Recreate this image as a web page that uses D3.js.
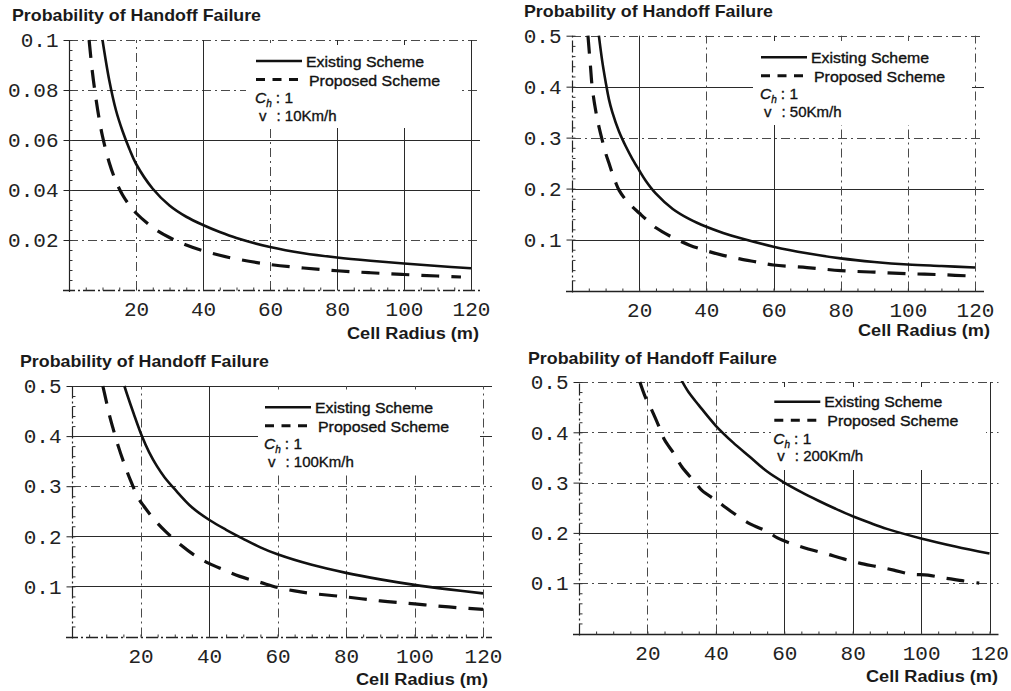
<!DOCTYPE html>
<html>
<head>
<meta charset="utf-8">
<script src="https://cdn.jsdelivr.net/npm/d3@7"></script>
<style>
  body { margin: 0; background: #fff; }
  svg { display: block; }
</style>
</head>
<body>
<svg id="chart" width="1011" height="691"></svg>
<script>
// values (cell radius in m, probability)
const xTickValues = [20, 40, 60, 80, 100, 120];
const yTicksLow = [0.02, 0.04, 0.06, 0.08, 0.1];
const yTickLabelsLow = ["0.02", "0.04", "0.06", "0.08", "0.1"];
const yTicksHigh = [0.1, 0.2, 0.3, 0.4, 0.5];
const yTickLabelsHigh = ["0.1", "0.2", "0.3", "0.4", "0.5"];
const seriesNames = ["Existing Scheme", "Proposed Scheme"];
const speeds = ["10Km/h", "50Km/h", "100Km/h", "200Km/h"];
const yTitle = "Probability of Handoff Failure";
const xTitle = "Cell Radius (m)";

const radius10Existing = [10, 12, 14, 16, 18, 20, 25, 30, 35, 40, 45, 50, 60, 70, 80, 90, 100, 110, 120];
const prob10Existing = [0.100, 0.084, 0.072, 0.0635, 0.0565, 0.0505, 0.0405, 0.0338, 0.0293, 0.0260, 0.0232, 0.0208, 0.0172, 0.0147, 0.0130, 0.0117, 0.0106, 0.0096, 0.0087];
const radius10Proposed = [6, 7, 8, 9, 10, 12, 14, 16, 18, 20, 25, 30, 35, 40, 45, 50, 60, 70, 80, 90, 100, 110, 117];
const prob10Proposed = [0.100, 0.087, 0.077, 0.0685, 0.0615, 0.051, 0.0435, 0.038, 0.034, 0.0308, 0.025, 0.021, 0.018, 0.0157, 0.0139, 0.0124, 0.0102, 0.0088, 0.0077, 0.0069, 0.0062, 0.0056, 0.0052];

const radius50Existing = [8, 9, 10, 11, 12, 14, 16, 18, 20, 22, 25, 30, 35, 40, 45, 50, 60, 70, 80, 90, 100, 110, 120];
const prob50Existing = [0.50, 0.45, 0.41, 0.375, 0.35, 0.312, 0.283, 0.258, 0.236, 0.215, 0.19, 0.16, 0.14, 0.125, 0.113, 0.103, 0.086, 0.073, 0.063, 0.056, 0.051, 0.048, 0.045];
const radius50Proposed = [4.75, 5.5, 6, 7, 8, 9, 10, 11, 12, 13, 14, 16, 18, 20, 22, 25, 30, 35, 40, 45, 50, 55, 60, 70, 80, 90, 100, 110, 120];
const prob50Proposed = [0.50, 0.44, 0.40, 0.355, 0.322, 0.295, 0.27, 0.25, 0.23, 0.212, 0.197, 0.178, 0.164, 0.152, 0.14, 0.123, 0.104, 0.089, 0.078, 0.069, 0.062, 0.056, 0.050, 0.045, 0.039, 0.036, 0.033, 0.031, 0.028];

const radius100Existing = [15.3, 16, 18, 20.4, 22.5, 24.8, 27, 30, 35, 40, 45, 50, 55, 60, 70, 80, 90, 100, 110, 120];
const prob100Existing = [0.50, 0.485, 0.445, 0.40, 0.368, 0.34, 0.318, 0.294, 0.258, 0.233, 0.213, 0.195, 0.178, 0.164, 0.143, 0.127, 0.114, 0.103, 0.094, 0.086];
const radius100Proposed = [9, 10, 11, 12, 13.5, 15.5, 17, 19.4, 21, 23, 25, 27.3, 31.7, 35.6, 40, 44, 49, 55, 60, 65, 70, 80, 90, 100, 110, 120];
const prob100Proposed = [0.50, 0.47, 0.44, 0.415, 0.38, 0.34, 0.313, 0.276, 0.26, 0.242, 0.226, 0.21, 0.183, 0.163, 0.146, 0.134, 0.12, 0.108, 0.098, 0.091, 0.086, 0.079, 0.071, 0.065, 0.059, 0.054];

const radius200Existing = [30, 32, 35, 40, 45, 50, 55, 60, 65, 70, 75, 80, 85, 90, 100, 110, 120];
const prob200Existing = [0.503, 0.48, 0.454, 0.413, 0.38, 0.351, 0.322, 0.300, 0.281, 0.264, 0.248, 0.233, 0.22, 0.208, 0.189, 0.173, 0.159];
const radius200Proposed = [17.8, 19.4, 21, 23.6, 25, 28, 30, 34, 36, 40, 42, 45, 50, 55, 58, 62, 67, 72, 77, 82, 87, 92, 97, 102, 107, 112, 117];
const prob200Proposed = [0.50, 0.47, 0.448, 0.408, 0.385, 0.355, 0.332, 0.30, 0.284, 0.265, 0.255, 0.24, 0.218, 0.203, 0.19, 0.179, 0.168, 0.159, 0.149, 0.14, 0.133, 0.126, 0.118, 0.116, 0.11, 0.105, 0.10];

const zip = (xs, ys) => xs.map((r, i) => ({ r, p: ys[i] }));

// layout of the four panels (s = solid grid line, d = dash-dot)
const panels = [
  { left: 69, right: 471, bottom: 290, top: 40, yMax: 0.1, ticks: yTicksLow, labels: yTickLabelsLow,
    speed: speeds[0], existing: zip(radius10Existing, prob10Existing), proposed: zip(radius10Proposed, prob10Proposed),
    hStyle: "dssdd", vStyle: "dsdsss", xAxis: "d", yAxis: "s",
    title: [12, 20.5], xLabel: [347, 339], legend: [256, 61], mask: [246, 45, 216, 83] },
  { left: 572, right: 975, bottom: 290.5, top: 35.7, yMax: 0.5, ticks: yTicksHigh, labels: yTickLabelsHigh,
    speed: speeds[1], existing: zip(radius50Existing, prob50Existing), proposed: zip(radius50Proposed, prob50Proposed),
    hStyle: "ssdsd", vStyle: "sdsddd", xAxis: "s", yAxis: "d",
    title: [524, 16.5], xLabel: [858, 336], legend: [761, 57.3], mask: [753, 41, 219, 84] },
  { left: 72, right: 483, bottom: 636.5, top: 386, yMax: 0.5, ticks: yTicksHigh, labels: yTickLabelsHigh,
    speed: speeds[2], existing: zip(radius100Existing, prob100Existing), proposed: zip(radius100Proposed, prob100Proposed),
    hStyle: "ssdss", vStyle: "dsdddd", xAxis: "d", yAxis: "d",
    title: [20, 367], xLabel: [356, 685], legend: [265, 407.3], mask: [258, 391, 222, 84] },
  { left: 579, right: 989.5, bottom: 633.5, top: 382, yMax: 0.5, ticks: yTicksHigh, labels: yTickLabelsHigh,
    speed: speeds[3], existing: zip(radius200Existing, prob200Existing), proposed: zip(radius200Proposed, prob200Proposed),
    hStyle: "dsddd", vStyle: "ddssss", xAxis: "s", yAxis: "d",
    title: [528, 364], xLabel: [866, 682], legend: [774.3, 401.7], mask: [771, 387, 215, 83] }
];

const svg = d3.select("#chart");
const crisp = v => Math.round(v) + 0.5;
const lineStroke = s => s === "s" ? "#2a2a2a" : "#4a4a4a";
const lineDash = s => s === "s" ? null : "9,4,2,4";

function drawPanel(p) {
  const x = d3.scaleLinear().domain([0, 120]).range([p.left, p.right]);
  const y = d3.scaleLinear().domain([0, p.yMax]).range([p.bottom, p.top]);
  const g = svg.append("g");

  // grid lines
  g.append("g").selectAll("line").data(p.ticks).join("line")
    .attr("x1", p.left).attr("x2", p.right + 9)
    .attr("y1", d => crisp(y(d))).attr("y2", d => crisp(y(d)))
    .attr("stroke", (d, i) => lineStroke(p.hStyle[i]))
    .attr("stroke-dasharray", (d, i) => lineDash(p.hStyle[i]))
    .attr("stroke-width", 1);

  g.append("g").selectAll("line").data(xTickValues).join("line")
    .attr("x1", d => crisp(x(d))).attr("x2", d => crisp(x(d)))
    .attr("y1", p.bottom).attr("y2", p.top)
    .attr("stroke", (d, i) => lineStroke(p.vStyle[i]))
    .attr("stroke-dasharray", (d, i) => lineDash(p.vStyle[i]))
    .attr("stroke-width", 1);

  // axis lines
  g.append("line")
    .attr("x1", p.left - 6).attr("x2", p.right + 9)
    .attr("y1", crisp(y(0))).attr("y2", crisp(y(0)))
    .attr("stroke", "#222").attr("stroke-width", 1.3)
    .attr("stroke-dasharray", p.xAxis === "s" ? null : "12,3,2,3");
  g.append("line")
    .attr("x1", crisp(x(0))).attr("x2", crisp(x(0)))
    .attr("y1", p.bottom + 2).attr("y2", p.top)
    .attr("stroke", "#222").attr("stroke-width", 1.2)
    .attr("stroke-dasharray", p.yAxis === "s" ? null : "12,3,2,3");

  // minor ticks
  const step = p.ticks[0];
  const minorY = d3.range(1, Math.round(p.yMax / step * 5) + 1).map(k => k * step / 5);
  g.append("g").attr("transform", `translate(${crisp(x(0))},0)`)
    .call(d3.axisLeft(y).tickValues(minorY).tickSize(-3).tickFormat(""))
    .call(a => a.select(".domain").remove())
    .selectAll("line").attr("stroke", "#333");
  g.append("g").attr("transform", `translate(0,${crisp(y(0))})`)
    .call(d3.axisBottom(x).tickValues(d3.range(5, 121, 5)).tickSize(-3).tickFormat(""))
    .call(a => a.select(".domain").remove())
    .selectAll("line").attr("stroke", "#333");

  // major tick labels
  g.append("g").attr("transform", `translate(${crisp(x(0))},0)`)
    .call(d3.axisLeft(y).tickValues(p.ticks).tickFormat((d, i) => p.labels[i]).tickSize(6).tickPadding(5))
    .call(a => a.select(".domain").remove())
    .call(a => a.selectAll("line").attr("stroke", "#222"))
    .call(a => a.selectAll("text").attr("font-family", "Liberation Mono, DejaVu Sans Mono, monospace")
      .attr("font-size", 21).attr("fill", "#222"));
  g.append("g").attr("transform", `translate(0,${crisp(y(0))})`)
    .call(d3.axisBottom(x).tickValues(xTickValues).tickSize(0).tickPadding(11))
    .call(a => a.select(".domain").remove())
    .call(a => a.selectAll("text").attr("font-family", "Liberation Mono, DejaVu Sans Mono, monospace")
      .attr("font-size", 21).attr("fill", "#222"));

  // legend background hides grid
  g.append("rect")
    .attr("x", p.mask[0]).attr("y", p.mask[1]).attr("width", p.mask[2]).attr("height", p.mask[3])
    .attr("fill", "#fff");

  // curves
  const clipId = "clip" + p.left + "_" + Math.round(p.top);
  g.append("clipPath").attr("id", clipId).append("rect")
    .attr("x", p.left).attr("y", p.top - 1).attr("width", p.right - p.left + 10).attr("height", p.bottom - p.top + 1);
  const line = d3.line().x(d => x(d.r)).y(d => y(d.p)).curve(d3.curveCatmullRom.alpha(0.5));
  const curves = g.append("g").attr("clip-path", `url(#${clipId})`);
  curves.append("path").datum(p.proposed).attr("d", line)
    .attr("fill", "none").attr("stroke", "#111").attr("stroke-width", 3.2)
    .attr("stroke-dasharray", "18,12");
  curves.append("path").datum(p.existing).attr("d", line)
    .attr("fill", "none").attr("stroke", "#111").attr("stroke-width", 2.6);

  // legend
  const [lx, ly] = p.legend;
  const lg = g.append("g").attr("font-family", "Liberation Sans, Arial, sans-serif")
    .attr("fill", "#111").attr("stroke", "#111").attr("stroke-width", 0.35);
  lg.append("line").attr("x1", lx).attr("x2", lx + 46).attr("y1", ly).attr("y2", ly)
    .attr("stroke-width", 2.6);
  lg.append("text").attr("x", lx + 50).attr("y", ly + 5.5).attr("font-size", 15)
    .attr("textLength", 118).attr("lengthAdjust", "spacingAndGlyphs").text(seriesNames[0]);
  lg.append("line").attr("x1", lx).attr("x2", lx + 42).attr("y1", ly + 18.5).attr("y2", ly + 18.5)
    .attr("stroke-width", 3).attr("stroke-dasharray", "9,7.5");
  lg.append("text").attr("x", lx + 53).attr("y", ly + 24.5).attr("font-size", 15)
    .attr("textLength", 131).attr("lengthAdjust", "spacingAndGlyphs").text(seriesNames[1]);

  const ch = lg.append("text").attr("x", lx - 1).attr("y", ly + 42).attr("font-size", 15.5);
  ch.append("tspan").attr("font-style", "italic").text("C");
  ch.append("tspan").attr("font-style", "italic").attr("font-size", 10).attr("dy", 4).text("h");
  ch.append("tspan").attr("dy", -4).attr("dx", 4).text(": 1");
  const vt = lg.append("text").attr("x", lx + 3).attr("y", ly + 59.5).attr("font-size", 15);
  vt.append("tspan").text("v");
  vt.append("tspan").attr("dx", 10).text(": " + p.speed);

  // titles
  g.append("text").attr("x", p.title[0]).attr("y", p.title[1])
    .attr("font-family", "Liberation Sans, Arial, sans-serif").attr("font-weight", "bold")
    .attr("font-size", 16.5).attr("fill", "#1a1a1a")
    .attr("textLength", 249).attr("lengthAdjust", "spacingAndGlyphs").text(yTitle);
  g.append("text").attr("x", p.xLabel[0]).attr("y", p.xLabel[1])
    .attr("font-family", "Liberation Sans, Arial, sans-serif").attr("font-weight", "bold")
    .attr("font-size", 16).attr("fill", "#1a1a1a")
    .attr("textLength", 132).attr("lengthAdjust", "spacingAndGlyphs").text(xTitle);
}

panels.forEach(drawPanel);
</script>
</body>
</html>
